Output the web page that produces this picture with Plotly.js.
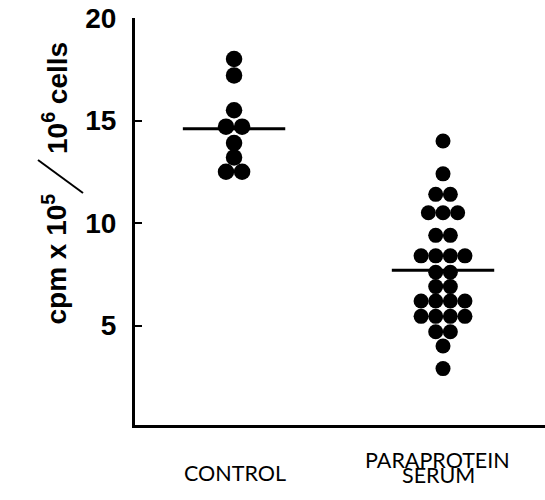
<!DOCTYPE html>
<html>
<head>
<meta charset="utf-8">
<script src="https://cdn.plot.ly/plotly-3.0.1.min.js"></script>
<style>
  html, body { margin: 0; padding: 0; background: #fff; }
  #chart { width: 545px; height: 500px; }
</style>
</head>
<body>
<div id="chart"></div>
<script>
// ---- data ----
const groupPositions = [1, 2];
const groupLabels = ["CONTROL", "PARAPROTEIN", "SERUM"];
const controlValues = [18.0, 17.2, 15.5, 14.7, 14.7, 13.9, 13.2, 12.5, 12.5];
const paraproteinValues = [14.0, 12.4, 11.4, 11.4, 10.5, 10.5, 10.5, 9.4, 9.4,
  8.4, 8.4, 8.4, 8.4, 7.6, 7.6, 6.9, 6.9, 6.2, 6.2, 6.2, 6.2,
  5.45, 5.45, 5.45, 5.45, 4.7, 4.7, 4.0, 2.9];
const groupMeans = [14.6, 7.7];
const yTickValues = [5, 10, 15, 20];
const yTitleParts = ["cpm x 10<sup>5</sup>", "10<sup>6</sup> cells"];

// ---- dot-plot layout: spread equal values side by side ----
function swarm(values, center, spacing) {
  const counts = {}, seen = {};
  values.forEach(v => { counts[v] = (counts[v] || 0) + 1; });
  return values.map(v => {
    const n = counts[v];
    const k = seen[v] || 0;
    seen[v] = k + 1;
    return center + (k - (n - 1) / 2) * spacing;
  });
}

const meanHalfWidth = 0.245;
const traces = [];
groupMeans.forEach((m, i) => {
  traces.push({
    type: "scatter", mode: "lines",
    x: [groupPositions[i] - meanHalfWidth, groupPositions[i] + meanHalfWidth],
    y: [m, m],
    line: { color: "#000", width: 3 },
    hoverinfo: "skip", showlegend: false
  });
});
traces.push({
  type: "scatter", mode: "markers",
  x: swarm(controlValues, groupPositions[0], 0.077),
  y: controlValues,
  marker: { color: "#000", size: 16.5, line: { width: 0 } },
  showlegend: false
});
traces.push({
  type: "scatter", mode: "markers",
  x: swarm(paraproteinValues, groupPositions[1], 0.07),
  y: paraproteinValues,
  marker: { color: "#000", size: 15, line: { width: 0 } },
  showlegend: false
});

const boldSans = "Liberation Sans, Arial, Helvetica, sans-serif";
const catFont = { family: "Lato, Noto Sans, sans-serif", size: 21.5, color: "#000" };
const titleFont = { family: boldSans, size: 28, color: "#000", weight: "bold" };

const layout = {
  width: 545, height: 500,
  margin: { l: 135, r: 0, t: 18, b: 75 },
  paper_bgcolor: "#fff", plot_bgcolor: "#fff",
  xaxis: {
    range: [0.526, 2.488],
    showgrid: false, zeroline: false,
    showline: true, linecolor: "#000", linewidth: 3,
    ticks: "", showticklabels: false, fixedrange: true
  },
  yaxis: {
    range: [0.15, 20],
    showgrid: false, zeroline: false,
    showline: true, linecolor: "#000", linewidth: 3,
    ticks: "inside", ticklen: 7, tickwidth: 2, tickcolor: "#000",
    tickvals: yTickValues, ticktext: yTickValues.map(String),
    ticklabelstandoff: 10,
    tickfont: { family: boldSans, size: 28, color: "#000", weight: "bold" },
    fixedrange: true
  },
  shapes: [
    { type: "line", xref: "paper", yref: "paper",
      x0: -0.2366, y0: 0.6511, x1: -0.1268, y1: 0.570,
      line: { color: "#000", width: 2 } }
  ],
  annotations: [
    {
      xref: "paper", yref: "paper", x: -0.1463, y: 0.2408,
      xanchor: "right", yanchor: "bottom", textangle: -90, showarrow: false,
      text: yTitleParts[0], font: titleFont
    },
    {
      xref: "paper", yref: "paper", x: -0.1463, y: 0.946,
      xanchor: "right", yanchor: "top", textangle: -90, showarrow: false,
      text: yTitleParts[1], font: titleFont
    },
    {
      xref: "x", yref: "paper", x: groupPositions[0], y: -0.118, xshift: 1,
      xanchor: "center", yanchor: "middle", showarrow: false,
      text: groupLabels[0], font: catFont
    },
    {
      xref: "x", yref: "paper", x: groupPositions[1], y: -0.085, xshift: -6,
      xanchor: "center", yanchor: "middle", showarrow: false,
      text: groupLabels[1], font: catFont
    },
    {
      xref: "x", yref: "paper", x: groupPositions[1], y: -0.122, xshift: -5,
      xanchor: "center", yanchor: "middle", showarrow: false,
      text: groupLabels[2], font: catFont
    }
  ]
};

Plotly.newPlot("chart", traces, layout, { displayModeBar: false, staticPlot: true });
</script>
</body>
</html>
